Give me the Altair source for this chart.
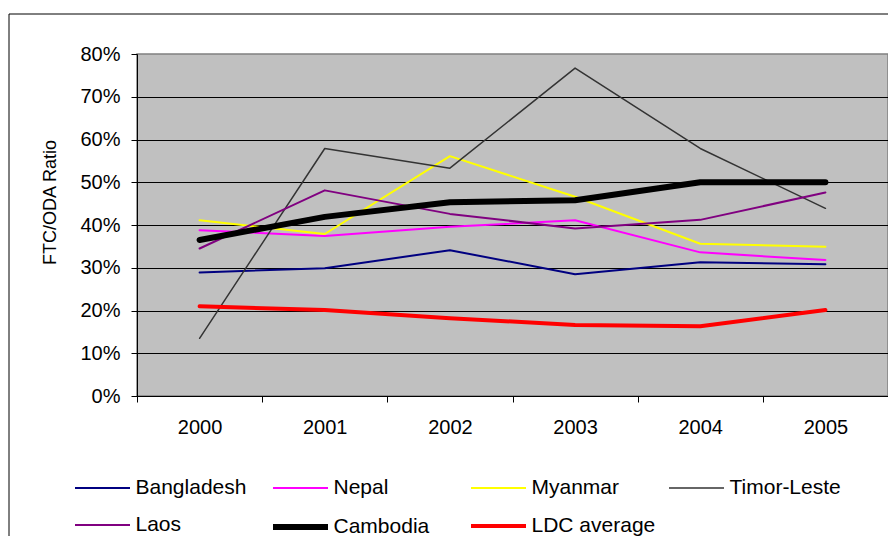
import altair as alt
import pandas as pd

years = ["2000", "2001", "2002", "2003", "2004", "2005"]
series_names = ["Bangladesh", "Nepal", "Myanmar", "Timor-Leste", "Laos", "Cambodia", "LDC average"]

bangladesh = [28.9, 29.9, 34.1, 28.5, 31.3, 30.8]
nepal = [38.8, 37.4, 39.6, 41.1, 33.6, 31.8]
myanmar = [41.1, 37.9, 56.1, 46.6, 35.6, 34.9]
timor_leste = [13.5, 57.9, 53.3, 76.7, 57.9, 43.9]
laos = [34.5, 48.1, 42.6, 39.2, 41.2, 47.6]
cambodia = [36.5, 41.9, 45.3, 45.8, 50.0, 50.0]
ldc_average = [21.0, 20.1, 18.2, 16.6, 16.3, 20.1]

all_values = [bangladesh, nepal, myanmar, timor_leste, laos, cambodia, ldc_average]

colors = ["#000080", "#FF00FF", "#FFFF00", "#333333", "#800080", "#000000", "#FF0000"]
widths = [2, 2, 2, 1.5, 2, 6, 4]
y_ticks = [0, 0.1, 0.2, 0.3, 0.4, 0.5, 0.6, 0.7, 0.8]

rows = []
for name, vals in zip(series_names, all_values):
    for yr, v in zip(years, vals):
        rows.append({"Year": yr, "Series": name, "Ratio": v / 100.0})
df = pd.DataFrame(rows)

FONT = "Liberation Sans"

legend = alt.Legend(
    title=None,
    orient="none",
    legendX=-65,
    legendY=421,
    direction="horizontal",
    columns=4,
    gridAlign="all",
    columnPadding=1,
    rowPadding=14,
    symbolType="M-2.75,0H2.75",
    symbolSize=400,
    symbolOffset=17.5,
    labelOffset=20,
    labelFont=FONT,
    labelFontSize=21,
    labelColor="black",
    padding=0,
)

lines = alt.Chart(df).mark_line(strokeCap="round", strokeJoin="round").encode(
    x=alt.X(
        "Year:O",
        sort=years,
        scale=alt.Scale(type="band", paddingInner=0, paddingOuter=0),
        axis=alt.Axis(
            title=None,
            tickBand="extent",
            labelAngle=0,
            labelFont=FONT,
            labelFontSize=20,
            labelColor="black",
            labelPadding=15,
            tickSize=6,
            tickColor="black",
            domainColor="black",
            grid=False,
        ),
    ),
    y=alt.Y(
        "Ratio:Q",
        scale=alt.Scale(domain=[0, 0.8], nice=False),
        axis=alt.Axis(
            title="FTC/ODA Ratio",
            values=y_ticks,
            format=".0%",
            labelFont=FONT,
            labelFontSize=20,
            labelColor="black",
            labelPadding=11,
            tickSize=6,
            tickColor="black",
            domainColor="black",
            gridColor="black",
            gridWidth=1,
            gridOpacity=alt.condition("datum.value > 0.75", alt.value(0), alt.value(1)),
            titleFont=FONT,
            titleFontSize=18,
            titleFontWeight="normal",
            titleColor="black",
            titleX=-87,
            titleY=148,
            titleAlign="center",
            titleBaseline="middle",
        ),
    ),
    color=alt.Color("Series:N", sort=series_names,
                    scale=alt.Scale(domain=series_names, range=colors), legend=legend),
    strokeWidth=alt.StrokeWidth("Series:N", sort=series_names,
                                scale=alt.Scale(type="ordinal", domain=series_names, range=widths),
                                legend=legend),
)

frame = alt.Chart(pd.DataFrame({"k": [0]})).mark_rect(
    fillOpacity=0, stroke="black", strokeWidth=1
).encode(
    x=alt.value(-128), x2=alt.value(800), y=alt.value(-40), y2=alt.value(600)
)

chart = alt.layer(frame, lines).properties(
    width=751,
    height=342,
    padding={"left": 129, "top": 46, "right": 0, "bottom": 140},
    autosize=alt.AutoSizeParams(type="none"),
    background="white",
).configure_view(
    fill="#C0C0C0", stroke="#808080", strokeWidth=1.5
)

chart.save("out.html", embed_options={"renderer": "svg", "actions": False})
